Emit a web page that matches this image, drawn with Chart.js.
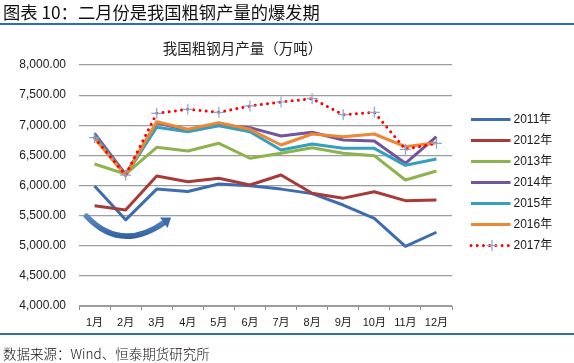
<!DOCTYPE html>
<html>
<head>
<meta charset="utf-8">
<script src="https://cdn.jsdelivr.net/npm/chart.js@4.4.1/dist/chart.umd.min.js"></script>
<style>
  html, body { margin: 0; padding: 0; background: #fff; }
  #wrap { position: relative; width: 574px; height: 363px; overflow: hidden; }
  canvas { position: absolute; left: 0; top: 0; }
  .txt { position: absolute; white-space: nowrap; font-family: 'Noto Sans CJK SC', 'Liberation Sans', sans-serif; color: #111; }
  #hdr { left: 3px; top: 2px; font-size: 17.3px; line-height: 20px; font-weight: 400; }
  #hrule { position: absolute; left: 0; top: 23px; width: 574px; height: 2px; background: #2f6db3; }
  #ctitle { left: 0; width: 485px; text-align: center; top: 38px; font-size: 14.5px; line-height: 20px; color: #222; }
  #frule { position: absolute; left: 0; top: 333px; width: 574px; height: 2px; background: #2f6db3; }
  #foot { left: 3px; top: 343px; font-size: 13.5px; line-height: 20px; color: #111; font-weight: 300; }
</style>
</head>
<body>
<div id="wrap">
  <canvas id="c" width="574" height="363"></canvas>
  <div id="hdr" class="txt">图表 10：二月份是我国粗钢产量的爆发期</div>
  <div id="hrule"></div>
  <div id="ctitle" class="txt">我国粗钢月产量（万吨）</div>
  <div id="frule"></div>
  <div id="foot" class="txt">数据来源：Wind、恒泰期货研究所</div>
</div>
<script>
const months = ['1月','2月','3月','4月','5月','6月','7月','8月','9月','10月','11月','12月'];
const seriesNames = ['2011年','2012年','2013年','2014年','2015年','2016年','2017年'];
const y2011 = [5990, 5430, 5940, 5900, 6025, 5995, 5940, 5865, 5676, 5456, 4990, 5224];
const y2012 = [5665, 5595, 6158, 6063, 6120, 6008, 6174, 5870, 5790, 5897, 5748, 5760];
const y2013 = [6357, 6190, 6634, 6573, 6700, 6452, 6535, 6628, 6535, 6495, 6091, 6240];
const y2014 = [6866, 6185, 7040, 6915, 7000, 6960, 6822, 6883, 6755, 6740, 6368, 6810];
const y2015 = [6825, 6165, 6966, 6893, 6993, 6893, 6589, 6689, 6617, 6617, 6335, 6440];
const y2016 = [6785, 6160, 7059, 6933, 7042, 6933, 6672, 6855, 6810, 6855, 6645, 6710];
const y2017 = [6793, 6172, 7198, 7265, 7215, 7320, 7386, 7441, 7175, 7215, 6600, 6700];
const yMin = 4000, yMax = 8000, yStep = 500;

const colors = ['#3d6db0', '#a63b39', '#8db34c', '#71559d', '#34a0bd', '#ec8734', '#ff0000'];
const allSeries = [y2011, y2012, y2013, y2014, y2015, y2016, y2017];

const datasets = allSeries.map((vals, i) => {
  const is17 = i === 6;
  return {
    label: seriesNames[i],
    data: vals,
    borderColor: colors[i],
    backgroundColor: colors[i],
    borderWidth: 3,
    borderDash: is17 ? [0.01, 6.2] : [],
    borderCapStyle: is17 ? 'round' : 'butt',
    borderJoinStyle: 'round',
    tension: 0,
    fill: false,
    pointStyle: is17 ? 'cross' : 'circle',
    pointRadius: is17 ? 5.5 : 0,
    pointBorderColor: '#86a6d6',
    pointBorderWidth: 1.2,
    order: 6 - i
  };
});

const FONT = "'Liberation Sans', Arial, 'Noto Sans CJK SC', sans-serif";

const legendPlugin = {
  id: 'sideLegend',
  afterDraw(chart) {
    const ctx = chart.ctx;
    const ca = chart.chartArea;
    const x0 = ca.right + 19;
    const rowH = 21;
    const yc = (ca.top + ca.bottom) / 2 - 3 * rowH - 3;
    chart.data.datasets.forEach((ds, i) => {
      const y = yc + i * rowH;
      ctx.save();
      ctx.strokeStyle = ds.borderColor;
      ctx.lineWidth = ds.borderWidth;
      ctx.lineCap = ds.borderCapStyle;
      ctx.setLineDash(ds.borderDash || []);
      ctx.beginPath();
      ctx.moveTo(x0, y);
      ctx.lineTo(x0 + 39.5, y);
      ctx.stroke();
      ctx.setLineDash([]);
      if (ds.pointRadius > 0) {
        const xm = x0 + 21, r = ds.pointRadius;
        ctx.strokeStyle = ds.pointBorderColor;
        ctx.lineWidth = ds.pointBorderWidth;
        ctx.lineCap = 'butt';
        ctx.beginPath();
        ctx.moveTo(xm - r, y); ctx.lineTo(xm + r, y);
        ctx.moveTo(xm, y - r); ctx.lineTo(xm, y + r);
        ctx.stroke();
      }
      ctx.fillStyle = '#1a1a1a';
      ctx.font = '12px ' + FONT;
      ctx.textBaseline = 'middle';
      ctx.textAlign = 'left';
      ctx.fillText(ds.label, x0 + 42.5, y + 0.5);
      ctx.restore();
    });
  }
};

const arrowPlugin = {
  id: 'curvedArrow',
  afterDatasetsDraw(chart) {
    const xs = chart.scales.x, ys = chart.scales.y;
    const step = xs.getPixelForValue(1) - xs.getPixelForValue(0);
    const sx = xs.getPixelForValue(0) - 0.26 * step, sy = ys.getPixelForValue(5490);
    const ex = xs.getPixelForValue(2) + 0.28 * step, ey = ys.getPixelForValue(5400);
    const cx = xs.getPixelForValue(1) - 0.15 * step, cy = ys.getPixelForValue(4876);
    const ctx = chart.ctx;
    ctx.save();
    const g = ctx.createLinearGradient(0, sy, 0, ys.getPixelForValue(5100));
    g.addColorStop(0, '#5a88c4');
    g.addColorStop(1, '#2f5f9e');
    ctx.strokeStyle = g;
    ctx.lineWidth = 5.5;
    ctx.lineCap = 'round';
    ctx.beginPath();
    ctx.moveTo(sx, sy);
    ctx.quadraticCurveTo(cx, cy, ex, ey);
    ctx.stroke();
    let dx = ex - cx, dy = ey - cy;
    const len = Math.hypot(dx, dy); dx /= len; dy /= len;
    const tipX = ex + dx * 7, tipY = ey + dy * 7;
    const px = -dy, py = dx;
    ctx.fillStyle = '#3a6cae';
    ctx.beginPath();
    ctx.moveTo(tipX, tipY);
    ctx.lineTo(ex - dx * 2 + px * 6.5, ey - dy * 2 + py * 6.5);
    ctx.lineTo(ex - dx * 2 - px * 6.5, ey - dy * 2 - py * 6.5);
    ctx.closePath();
    ctx.fill();
    ctx.restore();
  }
};

new Chart(document.getElementById('c'), {
  type: 'line',
  data: { labels: months, datasets },
  options: {
    responsive: false,
    devicePixelRatio: 1,
    animation: false,
    events: [],
    layout: { padding: { top: 65, left: 0, right: 122, bottom: 27 } },
    plugins: { legend: { display: false }, tooltip: { enabled: false }, title: { display: false } },
    scales: {
      x: {
        type: 'category',
        offset: true,
        afterFit(scale) { scale.height = 30; },
        grid: { display: true, drawOnChartArea: false, drawTicks: true, tickLength: 4, color: '#8c8c8c', lineWidth: 1, offset: true },
        border: { display: true, color: '#9a9a9a', width: 1 },
        ticks: { color: '#1a1a1a', font: { family: FONT, size: 11 }, padding: 6, maxRotation: 0, autoSkip: false }
      },
      y: {
        min: yMin, max: yMax,
        afterFit(scale) { scale.width = 79; },
        grid: { color: '#9d9d9d', lineWidth: 1.2, drawTicks: false },
        border: { display: false },
        ticks: {
          stepSize: yStep,
          padding: 13,
          color: '#1a1a1a',
          font: { family: FONT, size: 12 },
          callback: v => Number(v).toLocaleString('en-US', { minimumFractionDigits: 2, maximumFractionDigits: 2 })
        }
      }
    }
  },
  plugins: [legendPlugin, arrowPlugin]
});
</script>
</body>
</html>
